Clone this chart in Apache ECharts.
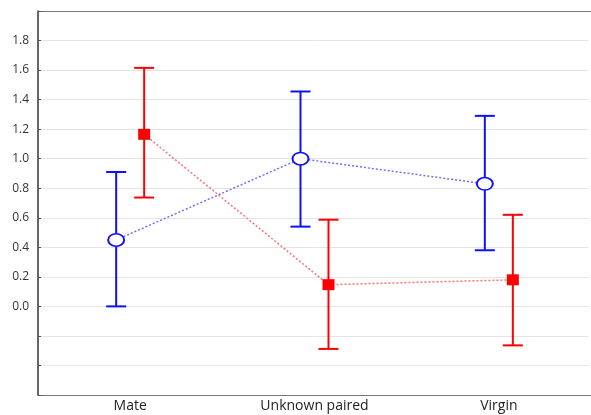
<!DOCTYPE html>
<html><head><meta charset="utf-8">
<script src="https://cdn.jsdelivr.net/npm/echarts@6/dist/echarts.min.js"></script>
<style>html,body{margin:0;padding:0;background:#fff;overflow:hidden}#c{width:591px;height:415px}</style>
</head><body><div id="c"></div>
<script>
const categories = ['Mate', 'Unknown paired', 'Virgin'];
const blueMean = [0.45, 1.00, 0.83];
const blueLow  = [0.00, 0.54, 0.38];
const blueHigh = [0.91, 1.455, 1.29];
const redMean  = [1.165, 0.147, 0.18];
const redLow   = [0.737, -0.288, -0.264];
const redHigh  = [1.615, 0.587, 0.62];

const chart = echarts.init(document.getElementById('c'));

function makeSeries(mean, low, high, color, lineColor, dx, marker) {
  return {
    type: 'custom',
    coordinateSystem: 'cartesian2d',
    clip: true,
    data: mean.map((m, i) => [i, m, low[i], high[i]]),
    renderItem: function (params, api) {
      const i = api.value(0);
      const p = api.coord([i, api.value(1)]);
      const lo = api.coord([i, api.value(2)]);
      const hi = api.coord([i, api.value(3)]);
      const x = p[0] + dx;
      const children = [];
      if (i < mean.length - 1) {
        const q = api.coord([i + 1, mean[i + 1]]);
        children.push({type: 'line', z2: 1, shape: {x1: x, y1: p[1], x2: q[0] + dx, y2: q[1]},
          style: {stroke: lineColor, lineWidth: 1.5, lineDash: [2, 2]}});
      }
      const st = {stroke: color, lineWidth: 2};
      children.push({type: 'line', z2: 2, shape: {x1: x, y1: lo[1], x2: x, y2: hi[1]}, style: st});
      children.push({type: 'line', z2: 2, shape: {x1: x - 10, y1: lo[1], x2: x + 10, y2: lo[1]}, style: st});
      children.push({type: 'line', z2: 2, shape: {x1: x - 10, y1: hi[1], x2: x + 10, y2: hi[1]}, style: st});
      if (marker === 'circle') {
        children.push({type: 'circle', z2: 3, x: x, y: p[1], scaleY: 0.78, shape: {cx: 0, cy: 0, r: 8},
          style: {fill: '#fff', stroke: color, lineWidth: 2}});
      } else {
        children.push({type: 'rect', z2: 3, shape: {x: x - 6, y: p[1] - 5.5, width: 12, height: 11},
          style: {fill: color}});
      }
      return {type: 'group', children: children};
    }
  };
}

chart.setOption({
  animation: false,
  backgroundColor: '#fff',
  grid: {left: 38, top: 11, width: 555, height: 384, show: false},
  xAxis: [{
    type: 'category', data: categories, position: 'bottom',
    axisLine: {onZero: false, lineStyle: {color: '#777', width: 1.2}},
    axisTick: {inside: true, alignWithLabel: true, length: 3, lineStyle: {color: '#555'}},
    axisLabel: {color: '#222', fontSize: 14, fontFamily: 'Open Sans', margin: 4},
    splitLine: {show: false}
  }, {
    type: 'category', data: categories, position: 'top',
    axisLine: {onZero: false, lineStyle: {color: '#777', width: 1.2}},
    axisTick: {inside: true, alignWithLabel: true, length: 3, lineStyle: {color: '#555'}},
    axisLabel: {show: false},
    splitLine: {show: false}
  }],
  yAxis: [{
    type: 'value', min: -0.6, max: 2.0, interval: 0.2, position: 'left',
    axisLine: {show: true, onZero: false, lineStyle: {color: '#333', width: 1.5}},
    axisTick: {show: true, inside: true, length: 3, lineStyle: {color: '#555'}},
    axisLabel: {color: '#333', fontSize: 12, fontFamily: 'Open Sans', margin: 9,
      formatter: function (v) { return (v < -0.01 || v > 1.9) ? '' : v.toFixed(1); }},
    splitLine: {show: true, lineStyle: {color: '#e4e4e4', width: 1}}
  }],
  graphic: [{
    type: 'rect', right: 0, top: 12, z: 100, silent: true,
    shape: {width: 2.5, height: 382}, style: {fill: '#fff'}
  }],
  series: [
    makeSeries(blueMean, blueLow, blueHigh, '#1010ff', '#7070ff', -14, 'circle'),
    makeSeries(redMean, redLow, redHigh, '#ff0000', '#ff7070', 14, 'square')
  ]
});
</script></body></html>
